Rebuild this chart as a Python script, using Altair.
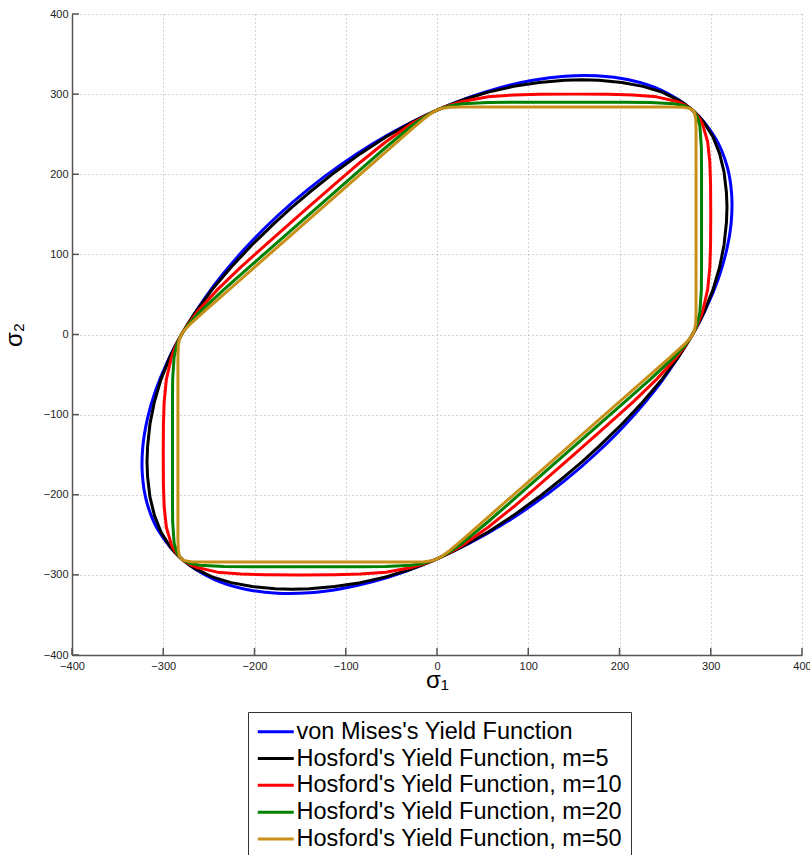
import altair as alt
import pandas as pd

NAMES = [
    "von Mises's Yield Function",
    "Hosford's Yield Function, m=5",
    "Hosford's Yield Function, m=10",
    "Hosford's Yield Function, m=20",
    "Hosford's Yield Function, m=50",
]
COLORS = ["#0000ff", "#000000", "#ff0000", "#008000", "#c8901a"]
TICKS = [-400, -300, -200, -100, 0, 100, 200, 300, 400]

VM = [
    (280, 0), (295.8, 35), (308.4, 70), (317.3, 105), (322.4, 140), (322.9, 175), (317.9, 210), (305.2, 245), (280, 280),
    (245, 305.2), (210, 317.9), (175, 322.9), (140, 322.4), (105, 317.3), (70, 308.4), (35, 295.8), (0, 280),
    (-35, 260.8), (-70, 238.4), (-105, 212.3), (-140, 182.4), (-175, 147.9), (-210, 107.9), (-245, 60.2), (-280, 0),
    (-295.8, -35), (-308.4, -70), (-317.3, -105), (-322.4, -140), (-322.9, -175), (-317.9, -210), (-305.2, -245), (-280, -280),
    (-245, -305.2), (-210, -317.9), (-175, -322.9), (-140, -322.4), (-105, -317.3), (-70, -308.4), (-35, -295.8), (0, -280),
    (35, -260.8), (70, -238.4), (105, -212.3), (140, -182.4), (175, -147.9), (210, -107.9), (245, -60.2),
]

M5 = [
    (280, 0), (286.6, 14), (292.6, 28), (302.5, 56), (309.7, 84), (314.6, 112), (317.2, 140), (317.8, 158.9),
    (317.2, 177.2), (314.6, 202.6), (309.7, 225.7), (302.5, 246.5), (292.6, 264.6), (286.6, 272.6), (280, 280),
    (272.6, 286.6), (264.6, 292.6), (246.5, 302.5), (225.7, 309.7), (202.6, 314.6), (177.2, 317.2), (158.9, 317.8),
    (140, 317.2), (112, 314.6), (84, 309.7), (56, 302.5), (28, 292.6), (14, 286.6), (0, 280),
    (-14, 272.6), (-28, 264.6), (-56, 246.5), (-84, 225.7), (-112, 202.6), (-140, 177.2), (-158.9, 158.9),
    (-177.2, 140), (-202.6, 112), (-225.7, 84), (-246.5, 56), (-264.6, 28), (-272.6, 14), (-280, 0),
    (-286.6, -14), (-292.6, -28), (-302.5, -56), (-309.7, -84), (-314.6, -112), (-317.2, -140), (-317.8, -158.9),
    (-317.2, -177.2), (-314.6, -202.6), (-309.7, -225.7), (-302.5, -246.5), (-292.6, -264.6), (-286.6, -272.6), (-280, -280),
    (-272.6, -286.6), (-264.6, -292.6), (-246.5, -302.5), (-225.7, -309.7), (-202.6, -314.6), (-177.2, -317.2), (-158.9, -317.8),
    (-140, -317.2), (-112, -314.6), (-84, -309.7), (-56, -302.5), (-28, -292.6), (-14, -286.6), (0, -280),
    (14, -272.6), (28, -264.6), (56, -246.5), (84, -225.7), (112, -202.6), (140, -177.2), (158.9, -158.9),
    (177.2, -140), (202.6, -112), (225.7, -84), (246.5, -56), (264.6, -28), (272.6, -14),
]

M10 = [
    (280, 0), (282.7, 5.6), (286.2, 14), (290.9, 28), (296.6, 56), (299.0, 84), (299.8, 112), (300.0, 150),
    (299.8, 187.8), (299.0, 215.0), (296.6, 240.6), (290.9, 262.9), (286.2, 272.2), (282.7, 277.1), (280, 280),
    (277.1, 282.7), (272.2, 286.2), (262.9, 290.9), (240.6, 296.6), (215, 299), (187.8, 299.8), (150, 300),
    (112, 299.8), (84, 299), (56, 296.6), (28, 290.9), (14, 286.2), (5.6, 282.7), (0, 280),
    (-5.6, 277.1), (-14, 272.2), (-28, 262.9), (-56, 240.6), (-84, 215), (-112, 187.8), (-150, 150),
    (-187.8, 112), (-215, 84), (-240.6, 56), (-262.9, 28), (-272.2, 14), (-277.1, 5.6), (-280, 0),
    (-282.7, -5.6), (-286.2, -14), (-290.9, -28), (-296.6, -56), (-299, -84), (-299.8, -112), (-300, -150),
    (-299.8, -187.8), (-299, -215), (-296.6, -240.6), (-290.9, -262.9), (-286.2, -272.2), (-282.7, -277.1), (-280, -280),
    (-277.1, -282.7), (-272.2, -286.2), (-262.9, -290.9), (-240.6, -296.6), (-215, -299), (-187.8, -299.8), (-150, -300),
    (-112, -299.8), (-84, -299), (-56, -296.6), (-28, -290.9), (-14, -286.2), (-5.6, -282.7), (0, -280),
    (5.6, -277.1), (14, -272.2), (28, -262.9), (56, -240.6), (84, -215), (112, -187.8), (150, -150),
    (187.8, -112), (215, -84), (240.6, -56), (262.9, -28), (272.2, -14), (277.1, -5.6),
]

M20 = [
    (280, 0), (282.5, 5.6), (285.4, 14), (288.1, 28), (289.7, 56), (289.9, 84),
    (289.9, 205.8), (289.7, 233.7), (288.1, 260.1), (285.4, 271.4), (282.5, 276.9), (280, 280),
    (276.9, 282.5), (271.4, 285.4), (260.1, 288.1), (233.7, 289.7), (205.8, 289.9),
    (84, 289.9), (56, 289.7), (28, 288.1), (14, 285.4), (5.6, 282.5), (0, 280),
    (-5.6, 276.9), (-14, 271.4), (-28, 260.1), (-56, 233.7), (-84, 205.9),
    (-205.8, 84.1), (-233.7, 56), (-260.1, 28), (-271.4, 14), (-276.9, 5.6), (-280, 0),
    (-282.5, -5.6), (-285.4, -14), (-288.1, -28), (-289.7, -56), (-289.9, -84),
    (-289.9, -205.8), (-289.7, -233.7), (-288.1, -260.1), (-285.4, -271.4), (-282.5, -276.9), (-280, -280),
    (-276.9, -282.5), (-271.4, -285.4), (-260.1, -288.1), (-233.7, -289.7), (-205.8, -289.9),
    (-84, -289.9), (-56, -289.7), (-28, -288.1), (-14, -285.4), (-5.6, -282.5), (0, -280),
    (5.6, -276.9), (14, -271.4), (28, -260.1), (56, -233.7), (84, -205.9),
    (205.8, -84.1), (233.7, -56), (260.1, -28), (271.4, -14), (276.9, -5.6),
]

M50 = [
    (280, 0), (281.2, 2.8), (282.2, 5.6), (283.5, 14), (283.9, 28),
    (283.9, 255.9), (283.5, 269.5), (282.2, 276.6), (281.2, 278.4), (280, 280),
    (278.4, 281.2), (276.6, 282.2), (269.5, 283.5), (255.9, 283.9),
    (28, 283.9), (14, 283.5), (5.6, 282.2), (2.8, 281.2), (0, 280),
    (-2.8, 278.4), (-5.6, 276.6), (-14, 269.5), (-28, 255.9),
    (-255.9, 28), (-269.5, 14), (-276.6, 5.6), (-278.4, 2.8), (-280, 0),
    (-281.2, -2.8), (-282.2, -5.6), (-283.5, -14), (-283.9, -28),
    (-283.9, -255.9), (-283.5, -269.5), (-282.2, -276.6), (-281.2, -278.4), (-280, -280),
    (-278.4, -281.2), (-276.6, -282.2), (-269.5, -283.5), (-255.9, -283.9),
    (-28, -283.9), (-14, -283.5), (-5.6, -282.2), (-2.8, -281.2), (0, -280),
    (2.8, -278.4), (5.6, -276.6), (14, -269.5), (28, -255.9),
    (255.9, -28), (269.5, -14), (276.6, -5.6), (278.4, -2.8),
]

CURVES = [VM, M5, M10, M20, M50]

rows = []
for name, pts in zip(NAMES, CURVES):
    for k, (a, b) in enumerate(pts):
        rows.append({"curve": name, "s1": a, "s2": b, "k": k})
df = pd.DataFrame(rows)
ticks_df = pd.DataFrame({"t": TICKS})

W, H = 730, 641
FONT = "Liberation Sans"

xscale = alt.Scale(domain=[-400, 400], nice=False, zero=False)
yscale = alt.Scale(domain=[-400, 400], nice=False, zero=False)

xaxis = alt.Axis(
    values=TICKS, title="σ₁", titleFontSize=24, titleFont=FONT, titleFontWeight="normal",
    titleColor="#000", titleX=W / 2, titleY=32, titleBaseline="alphabetic", titleAlign="center",
    grid=True, gridDash=[1, 3], gridColor="#a8a8a8", gridWidth=1,
    ticks=False, tickSize=0, labelPadding=5, labelFontSize=11, labelFont=FONT, labelColor="#222",
    domainColor="#555", domainWidth=1.5, labelFlush=False,
)
yaxis = alt.Axis(
    values=TICKS, title="σ₂", titleFontSize=24, titleFont=FONT, titleFontWeight="normal",
    titleColor="#000", titleX=-51, titleY=H / 2, titleAngle=270, titleBaseline="alphabetic", titleAlign="center",
    grid=True, gridDash=[1, 3], gridColor="#a8a8a8", gridWidth=1,
    ticks=False, tickSize=0, labelPadding=4, labelFontSize=11, labelFont=FONT, labelColor="#222",
    domainColor="#555", domainWidth=1.5, labelFlush=False,
)

color = alt.Color(
    "curve:N",
    scale=alt.Scale(domain=NAMES, range=COLORS),
    legend=alt.Legend(
        orient="none", legendX=176, legendY=698, title=None,
        symbolType="M-1.8,0L1.8,0", symbolStrokeWidth=3, symbolSize=400,
        symbolOffset=8,
        labelFontSize=23.5, labelFont=FONT, labelColor="#000", labelOffset=9, labelLimit=600,
        rowPadding=1.8, padding=8, strokeColor="#333", fillColor="#ffffff",
    ),
)

layers = []

xticks = alt.Chart(ticks_df).mark_rule(color="#555", strokeWidth=1.5).encode(
    x=alt.X("t:Q", scale=xscale, axis=xaxis), y=alt.value(H), y2=alt.value(H - 7)
)
yticks = alt.Chart(ticks_df).mark_rule(color="#555", strokeWidth=1.5).encode(
    y=alt.Y("t:Q", scale=yscale, axis=yaxis), x=alt.value(0), x2=alt.value(7)
)
layers += [xticks, yticks]

for i, name in enumerate(NAMES):
    interp = "cardinal-closed" if i == 0 else "linear-closed"
    layers.append(
        alt.Chart(df)
        .transform_filter(alt.datum.curve == name)
        .mark_line(interpolate=interp, strokeWidth=3, strokeJoin="round", strokeCap="round")
        .encode(
            x=alt.X("s1:Q", scale=xscale, axis=xaxis),
            y=alt.Y("s2:Q", scale=yscale, axis=yaxis),
            order=alt.Order("k:Q"),
            color=color,
        )
    )

chart = (
    alt.layer(*layers)
    .properties(
        width=W, height=H, background="white",
        autosize=alt.AutoSizeParams(type="none"),
        padding={"left": 72, "top": 14, "right": 8, "bottom": 200},
    )
    .configure_view(stroke=None)
)

chart.save("out.html", embed_options={"renderer": "svg", "actions": False})
